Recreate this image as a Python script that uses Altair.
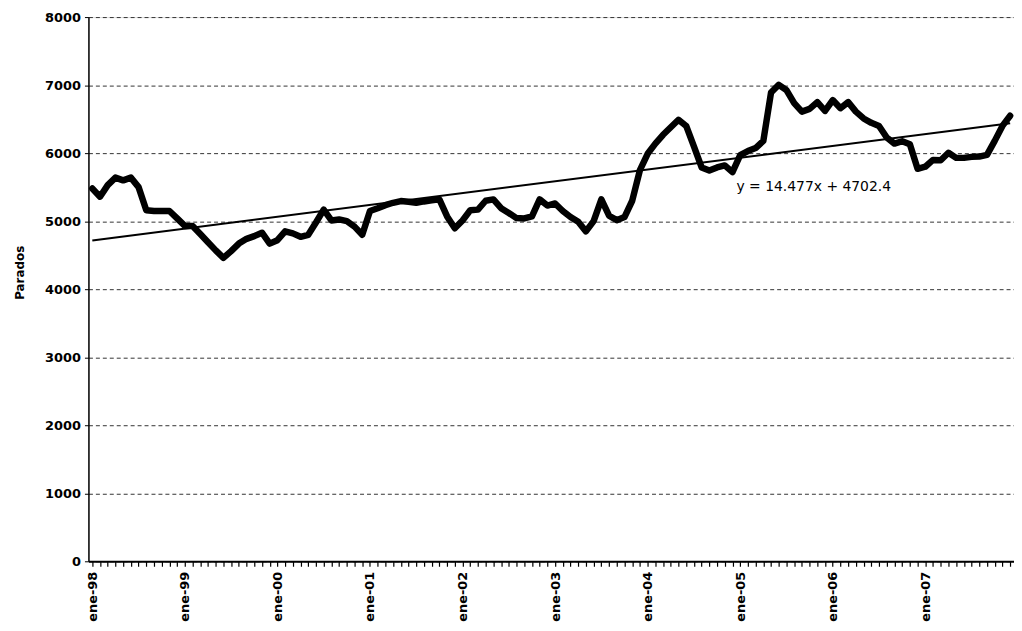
import altair as alt
import pandas as pd

meses = ["ene", "feb", "mar", "abr", "may", "jun", "jul", "ago", "sep", "oct", "nov", "dic"]
anios = [98, 99, 0, 1, 2, 3, 4, 5, 6, 7]
periodos = [f"{m}-{a:02d}" for a in anios for m in meses]

parados = [
    5480, 5360, 5530, 5640, 5600, 5640, 5500, 5160, 5150, 5150, 5150, 5040,
    4930, 4930, 4810, 4690, 4570, 4460, 4560, 4670, 4740, 4780, 4830, 4670,
    4720, 4850, 4820, 4770, 4800, 4980, 5170, 5010, 5025, 5000, 4920, 4800,
    5150, 5190, 5235, 5270, 5295, 5285, 5270, 5290, 5305, 5320, 5070, 4895,
    5010, 5160, 5170, 5300, 5320, 5190, 5120, 5045, 5040, 5070, 5320, 5230,
    5260, 5150, 5060, 4990, 4850, 5000, 5320, 5080, 5015, 5060, 5300, 5750,
    5990, 6140, 6270, 6380, 6490, 6400, 6100, 5790, 5745, 5790, 5820, 5720,
    5970, 6030, 6075, 6180, 6890, 7005, 6925, 6735, 6610, 6650, 6750, 6620,
    6780, 6660, 6750, 6610, 6510, 6445, 6400, 6230, 6140, 6175, 6130, 5770,
    5800, 5900, 5895, 6005, 5930, 5930, 5945, 5950, 5975, 6180, 6400, 6550,
]

# Tendencia lineal indicada en el gráfico: y = 14.477x + 4702.4
tend_pendiente = 14.477
tend_origen = 4702.4
tend_periodos = [periodos[0], periodos[-1]]
tend_valores = [tend_origen + tend_pendiente * 1, tend_origen + tend_pendiente * len(periodos)]

etiqueta_texto = ["y = 14.477x + 4702.4"]
etiqueta_periodo = ["dic-04"]
etiqueta_valor = [5500]

FONT = "DejaVu Sans"

df = pd.DataFrame({"periodo": periodos, "parados": parados})
df_t = pd.DataFrame({"periodo": tend_periodos, "parados": tend_valores})
df_l = pd.DataFrame({"periodo": etiqueta_periodo, "parados": etiqueta_valor, "texto": etiqueta_texto})

x_enc = alt.X(
    "periodo:O",
    sort=periodos,
    scale=alt.Scale(domain=periodos, type="point", padding=0.5),
    axis=alt.Axis(
        title=None,
        labelAngle=-90,
        labelExpr="slice(datum.label,0,3)=='ene' ? datum.label : ''",
        labelFont=FONT,
        labelFontSize=13,
        labelFontWeight="bold",
        labelColor="black",
        labelPadding=5,
        tickSize=5,
        tickWidth=1.2,
        tickColor="black",
        domainColor="black",
        domainWidth=2,
        grid=False,
    ),
)
y_enc = alt.Y(
    "parados:Q",
    scale=alt.Scale(domain=[0, 8000], nice=False),
    axis=alt.Axis(
        title="Parados",
        titleFont=FONT,
        titleFontSize=12,
        titleFontWeight="bold",
        titleColor="black",
        titlePadding=18,
        titleY=257,
        values=list(range(0, 8001, 1000)),
        format="d",
        labelFont=FONT,
        labelFontSize=13,
        labelFontWeight="bold",
        labelColor="black",
        labelPadding=4,
        tickSize=4,
        tickColor="black",
        domainColor="black",
        domainWidth=1.5,
        grid=True,
        gridColor="#333333",
        gridDash=[4, 3],
        gridWidth=1,
    ),
)

linea = alt.Chart(df).mark_line(
    color="black", strokeWidth=6.5, strokeJoin="round", strokeCap="round"
).encode(x=x_enc, y=y_enc)

tendencia = alt.Chart(df_t).mark_line(color="black", strokeWidth=2).encode(
    x=alt.X("periodo:O", sort=periodos), y="parados:Q"
)

etiqueta = alt.Chart(df_l).mark_text(
    align="left", baseline="middle", font=FONT, fontSize=14, color="black", dx=4
).encode(x=alt.X("periodo:O", sort=periodos), y="parados:Q", text="texto:N")

chart = (
    alt.layer(linea, tendencia, etiqueta)
    .properties(
        width=932,
        height=548,
        autosize=alt.AutoSizeParams(type="none"),
        padding={"left": 81, "top": 7, "right": 0, "bottom": 60},
    )
    .configure_view(strokeWidth=0)
    .configure(background="white")
)

chart.save("out.html", embed_options={"renderer": "svg", "actions": False})
